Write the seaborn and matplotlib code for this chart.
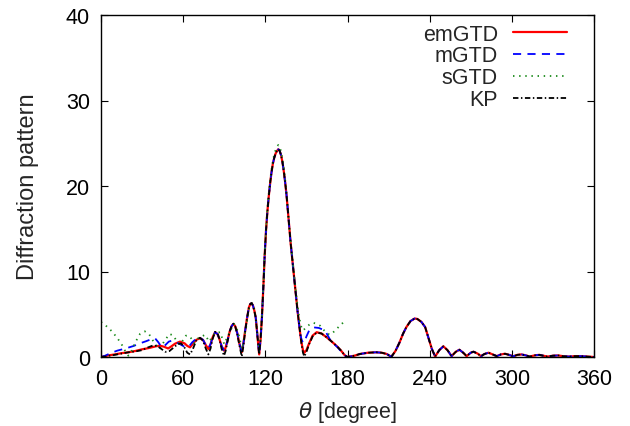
import numpy as np
import matplotlib
matplotlib.use('Agg')
import matplotlib.pyplot as plt
import pandas as pd
import seaborn as sns

# ---- data (angle in degree, pattern value) ----
# main lobe shared by emGTD, mGTD and KP
lobe_theta = [115.5, 116.5, 117.5, 118.5, 119.5, 120.5, 121.5, 122.5, 123.5, 124.5,
              125.5, 126.5, 127.5, 128.5, 129.5, 130.5, 131.5, 132.5, 133.5, 134.5,
              135.5, 136.5, 137.5, 138.5, 139.5, 140.5, 141.5, 142.5, 143.5, 144.5, 145.5]
lobe_vals = [0.3, 2.0, 4.6, 8.0, 11.8, 14.8, 17.0, 18.8, 20.3, 21.6,
             22.6, 23.3, 23.8, 24.1, 24.3, 24.1, 23.6, 22.8, 21.7, 20.4,
             18.9, 17.0, 15.0, 13.3, 11.7, 10.2, 8.6, 7.0, 5.4, 4.0, 2.7]

# far side (> 180 deg) shared by emGTD, mGTD and KP
tail_theta = [180, 185, 189, 195, 201, 205, 208.7, 212, 215, 218, 220.5, 223, 226, 229,
              231, 234, 236.7, 239, 241.6, 244, 247, 250, 253, 256, 259, 261.7, 264.5,
              267, 270, 272, 275, 277.5, 280, 283, 286, 289, 292, 295, 298, 301, 304,
              307, 310, 313, 317, 320, 323, 326, 330, 334, 338, 342, 346, 350, 355, 360]
tail_vals = [0.0, 0.15, 0.35, 0.5, 0.55, 0.5, 0.35, 0.02, 0.7, 1.7, 2.7, 3.5, 4.2, 4.5,
             4.45, 4.1, 3.5, 2.3, 0.94, 0.05, 0.8, 1.25, 0.8, 0.1, 0.6, 0.85, 0.5,
             0.1, 0.5, 0.62, 0.4, 0.1, 0.35, 0.5, 0.3, 0.1, 0.3, 0.38, 0.25, 0.08, 0.25,
             0.3, 0.2, 0.05, 0.2, 0.25, 0.15, 0.05, 0.15, 0.18, 0.08, 0.05, 0.1, 0.1, 0.05, 0.0]

# emGTD
em_low_theta = [0, 3, 6, 10, 15, 20, 25, 30, 35, 40, 43, 46, 49, 51, 54, 57.7, 61, 63,
                65, 67, 69.5, 72.3, 74.5, 76.5, 78.4, 80, 81.5, 83.3, 85, 86.5, 88, 89.8,
                91, 92.5, 94, 95.5, 96.7, 98, 99.5, 101, 102.8, 104, 105.2, 106.5, 108,
                109, 110, 111, 112, 113, 114.3]
em_low_vals = [0.0, 0.1, 0.2, 0.3, 0.45, 0.55, 0.7, 0.9, 1.05, 1.25, 1.33, 1.2, 1.0, 1.2,
               1.55, 1.8, 1.6, 1.3, 1.13, 1.5, 2.0, 2.2, 2.0, 1.4, 0.94, 1.5, 2.3, 2.9,
               2.7, 2.1, 1.3, 0.74, 1.1, 2.0, 3.0, 3.65, 3.86, 3.6, 2.8, 1.6, 0.55, 1.6,
               3.0, 4.4, 5.8, 6.2, 6.3, 6.0, 5.4, 4.6, 2.4]
em_side_theta = [146.5, 147.5, 148.5, 150, 152, 154.5, 157.5, 161, 164.8, 168.5, 172, 175, 178]
em_side_vals = [1.6, 0.8, 0.5, 0.8, 1.6, 2.5, 2.9, 2.75, 2.3, 1.8, 1.3, 0.8, 0.2]

# mGTD
m_low_theta = [0, 3, 7, 12, 18, 24, 28.5, 33, 37, 39.4, 42, 44.3, 47, 49.5, 51.6, 54,
               57.7, 61, 63.8, 66.5, 69.9, 72.3, 74.5, 76.5, 78.4, 80, 81.5, 83.3, 85,
               86.5, 88, 89.8, 91, 92.5, 94, 95.5, 96.7, 98, 99.5, 101, 102.8, 104,
               105.2, 106.5, 108, 109, 110, 111, 112, 113, 114.3]
m_low_vals = [0.0, 0.15, 0.45, 0.75, 1.0, 1.3, 1.6, 1.85, 2.1, 2.2, 1.7, 1.13, 1.4, 1.8,
              1.9, 1.8, 1.5, 1.2, 1.13, 1.7, 2.2, 2.25, 2.0, 1.4, 1.0, 1.5, 2.3, 2.9,
              2.7, 2.1, 1.3, 0.74, 1.1, 2.0, 3.0, 3.65, 3.86, 3.6, 2.8, 1.6, 0.55, 1.6,
              3.0, 4.4, 5.8, 6.2, 6.3, 6.0, 5.4, 4.6, 2.4]
m_side_theta = [146.5, 147.5, 148.5, 150, 152, 155, 159, 163.6, 167, 171, 173, 176, 178]
m_side_vals = [2.0, 1.7, 1.7, 2.4, 3.1, 3.47, 3.4, 3.1, 2.1, 1.4, 1.1, 0.5, 0.2]

# KP
kp_low_theta = [0, 3, 6, 10, 15, 20, 25, 30, 34, 38, 41, 44, 47, 50, 53, 56, 58.5, 61,
                63, 65, 67, 69.5, 72.3, 74.5, 76.5, 78.4, 80, 81.5, 83.3, 85, 86.5, 88,
                89.8, 91, 92.5, 94, 95.5, 96.7, 98, 99.5, 101, 102.8, 104, 105.2, 106.5,
                108, 109, 110, 111, 112, 113, 114.3]
kp_low_vals = [0.0, 0.05, 0.15, 0.25, 0.4, 0.55, 0.65, 0.8, 1.1, 1.35, 1.3, 0.95, 0.6,
               0.7, 1.1, 1.5, 1.6, 1.1, 0.5, 0.3, 0.9, 1.9, 2.25, 1.9, 1.0, 0.3, 1.0,
               2.1, 2.95, 2.8, 2.1, 1.0, 0.15, 0.7, 1.9, 3.0, 3.7, 3.9, 3.6, 2.7, 1.4,
               0.05, 1.3, 2.9, 4.4, 5.8, 6.2, 6.3, 6.0, 5.4, 4.6, 2.4]
kp_side_theta = [146.5, 147.5, 148.5, 150, 152, 154.5, 157.5, 161, 164.8, 168.5, 172, 175, 178]
kp_side_vals = [1.4, 0.5, 0.05, 0.6, 1.5, 2.4, 2.85, 2.75, 2.3, 1.8, 1.3, 0.8, 0.2]

# sGTD (only up to 180 deg)
s_theta = [0, 4, 8, 12, 15, 18, 20, 22, 25, 28.5, 32, 35, 38, 41, 43, 46, 50, 53, 56,
           58, 62, 65, 68, 71, 76, 79, 83, 87, 90, 93, 97, 100, 103, 106, 108, 110, 112,
           113.5, 115.5, 116.5, 117.5, 118.5, 119.5, 120.5, 121.5, 122.5, 123.5, 124.5,
           125.5, 126.5, 127.5, 128.5, 129.5, 130.5, 131.5, 132.5, 133.5, 134.5, 135.5,
           136.5, 137.5, 138.5, 139.5, 140.5, 141.5, 142.5, 143.5, 144.5, 145.5, 146.5,
           147.6, 150, 153, 155, 158, 160, 163, 165, 167, 169, 171, 174, 177, 179]
s_vals = [4.1, 3.6, 3.0, 2.2, 1.5, 0.6, 0.15, 0.6, 1.7, 2.7, 3.0, 2.7, 1.9, 1.2, 0.94,
          1.8, 2.7, 2.5, 1.6, 1.5, 2.5, 2.4, 1.6, 2.2, 2.6, 1.8, 2.8, 2.9, 1.5, 2.6, 3.9,
          3.0, 0.9, 3.5, 5.6, 6.3, 5.6, 3.8, 0.6, 2.2, 4.8, 8.2, 12.0, 15.0, 17.3, 19.1,
          20.6, 21.9, 22.9, 23.7, 24.2, 24.6, 24.8, 24.6, 24.0, 23.2, 22.1, 20.7, 19.1,
          17.2, 15.2, 13.5, 11.9, 10.4, 8.9, 7.4, 6.0, 4.9, 4.0, 3.4, 3.1, 3.5, 3.9, 4.0,
          3.85, 3.66, 3.1, 2.8, 2.6, 2.8, 3.1, 3.6, 4.05, 4.2]

x_ticks = [0, 60, 120, 180, 240, 300, 360]
y_ticks = [0, 10, 20, 30, 40]


def series(low_t, low_v, side_t, side_v):
    t = low_t + lobe_theta + side_t + tail_theta
    v = low_v + lobe_vals + side_v + tail_vals
    return pd.DataFrame({'theta': t, 'value': v})


df_em = series(em_low_theta, em_low_vals, em_side_theta, em_side_vals)
df_m = series(m_low_theta, m_low_vals, m_side_theta, m_side_vals)
df_kp = series(kp_low_theta, kp_low_vals, kp_side_theta, kp_side_vals)
df_s = pd.DataFrame({'theta': s_theta, 'value': s_vals})

sns.set_theme(style='ticks')
plt.rcParams['font.family'] = ['Liberation Sans', 'DejaVu Sans']
plt.rcParams['mathtext.fontset'] = 'dejavusans'
fs = 15.5

fig = plt.figure(figsize=(6.3, 4.27), dpi=100)
ax = fig.add_axes([101 / 630, 1 - 358 / 427, 493 / 630, 342 / 427])

lw = 1.3
sns.lineplot(data=df_em, x='theta', y='value', ax=ax, color='#ff0000', lw=lw + 0.3,
             label='emGTD', estimator=None)
sns.lineplot(data=df_m, x='theta', y='value', ax=ax, color='#0000ff', lw=lw,
             linestyle=(0, (4.5, 3.5)), label='mGTD', estimator=None)
sns.lineplot(data=df_s, x='theta', y='value', ax=ax, color='#1a8a1a', lw=lw,
             linestyle=(0, (0.8, 2.6)), label='sGTD', estimator=None)
sns.lineplot(data=df_kp, x='theta', y='value', ax=ax, color='black', lw=lw,
             linestyle=(0, (3.0, 1.4, 0.8, 1.4)), label='KP', estimator=None)

ax.set_xlim(0, 360)
ax.set_ylim(0, 40)
ax.set_xticks(x_ticks)
ax.set_yticks(y_ticks)
ax.tick_params(direction='in', length=5, width=0.8, top=True, right=True,
               labelsize=fs, colors='black', pad=8)
for sp in ax.spines.values():
    sp.set_visible(True)
    sp.set_linewidth(1.0)
    sp.set_color('black')

ax.set_xlabel(r'$\theta$ [degree]', fontsize=fs, labelpad=7)
ax.set_ylabel('Diffraction pattern', fontsize=17, labelpad=19)

ax.legend(loc='upper right', frameon=False, markerfirst=False, fontsize=fs,
          handlelength=2.5, handletextpad=0.7, labelspacing=0.04,
          borderaxespad=0.0, bbox_to_anchor=(0.962, 1.0))

fig.savefig('out.png', dpi=100)
